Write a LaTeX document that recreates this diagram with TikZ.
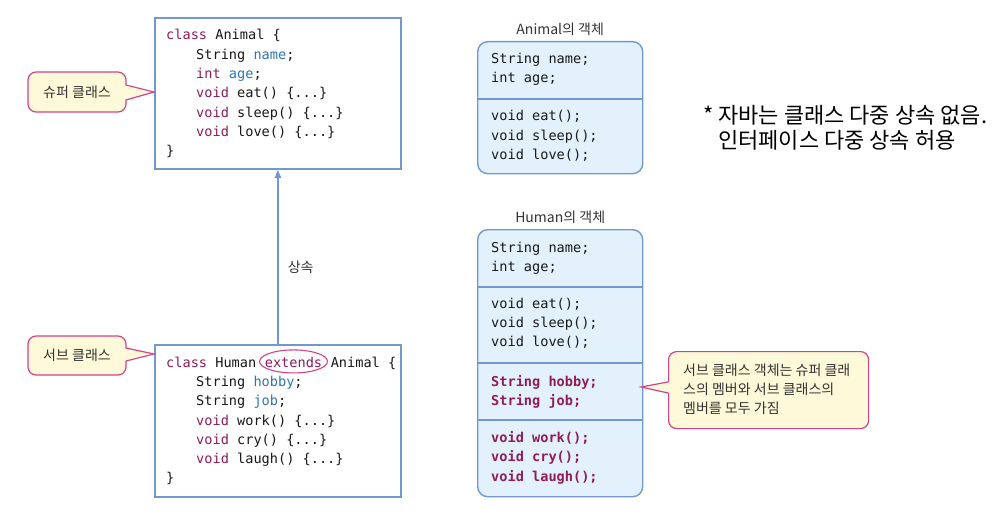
\documentclass[tikz,border=0pt]{standalone}
\usepackage{fontspec}
\setmainfont{Noto Sans CJK KR}
\setmonofont{DejaVu Sans Mono}
\usepackage{xcolor}
\usetikzlibrary{arrows.meta, positioning, calc}

\definecolor{boxblue}{HTML}{7199CF}
\definecolor{objfill}{HTML}{E3F1FC}
\definecolor{callfill}{HTML}{FEF9D9}
\definecolor{callline}{HTML}{D6428A}
\definecolor{kwpurple}{HTML}{8F1C5C}
\definecolor{fldblue}{HTML}{2F75B5}
\definecolor{lblgray}{HTML}{333333}

\newcommand{\kw}[1]{\textcolor{kwpurple}{#1}}
\newcommand{\fld}[1]{\textcolor{fldblue}{#1}}
\newcommand{\threedots}{...}

\begin{document}
\begin{tikzpicture}[
    x=1pt, y=-1pt,
    % Node styles
    classbox/.style={draw=boxblue, line width=1.8pt, fill=white, anchor=north west, inner sep=0},
    objbox/.style={draw=boxblue, line width=1.4pt, fill=objfill, rounded corners=10pt, anchor=north west, inner sep=0},
    code/.style={anchor=base west, inner sep=0, font=\ttfamily\fontsize{13.6}{19}\selectfont, text=black!90},
    boldcode/.style={code, font=\ttfamily\bfseries\fontsize{13.6}{19}\selectfont, text=kwpurple},
    lbltext/.style={inner sep=0, font=\fontsize{14}{19}\selectfont, text=lblgray},
    callbox/.style={lbltext, draw=callline, line width=1.2pt, fill=callfill, rounded corners=8pt},
    callout/.style={draw=callline, line width=1.2pt},
    divider/.style={draw=boxblue, line width=1.3pt},
    inherit/.style={draw=boxblue, line width=1.8pt, -{Triangle[length=8pt, width=6pt]}},
]
\useasboundingbox (0,0) rectangle (1008,524);

% ============================================================================
% LEFT: CLASS DEFINITIONS
% ============================================================================
\node[classbox, minimum width=246pt, minimum height=151pt] (animal) at (154,17) {};
\node[classbox, minimum width=246pt, minimum height=152pt] (human) at (154,344) {};

% Animal class code
\node[code] (a0) at (166,40) {\kw{class} Animal \{};
\foreach \ln [count=\i] in {{String \fld{name};}, {\kw{int} \fld{age};}, {\kw{void} eat() \{\threedots\}},
    {\kw{void} sleep() \{\threedots\}}, {\kw{void} love() \{\threedots\}}} {
    \node[code] (a\i) at (196, 40+19.3*\i) {\ln};
}
\node[code] (a6) at (166, 40+19.3*6) {\}};

% Human class code
\node[code] (h0) at (166,367.5) {\kw{class} Human\hphantom{x}};
\node[code] (ext) at (h0.base east) {\kw{extends}};
\node[code] (h0b) at (ext.base east) {\hphantom{x}Animal \{};
\draw[callline, line width=1.1pt] ([yshift=1pt]ext.center) ellipse (34pt and 11.5pt);
\foreach \ln [count=\i] in {{String \fld{hobby};}, {String \fld{job};}, {\kw{void} work() \{\threedots\}},
    {\kw{void} cry() \{\threedots\}}, {\kw{void} laugh() \{\threedots\}}} {
    \node[code] (h\i) at (196, 367.5+19.2*\i) {\ln};
}
\node[code] (h6) at (166, 367.5+19.2*6) {\}};

% Inheritance arrow
\draw[inherit] (human.north) -- (animal.south)
    node[pos=0.44, right=9pt, lbltext] (inhlbl) {상속};

% Callouts
\node[callbox, minimum width=98pt, minimum height=40pt] (superlbl) at (77,92) {슈퍼 클래스};
\fill[callfill] (124,85) -- (154,92) -- (124,100) -- cycle;
\draw[callout] (126,85) -- (154,92) -- (126,100);

\node[callbox, minimum width=98pt, minimum height=39pt] (sublbl) at (77,355.5) {서브 클래스};
\fill[callfill] (124,348) -- (154,354) -- (124,361) -- cycle;
\draw[callout] (126,348) -- (154,354) -- (126,361);

% ============================================================================
% RIGHT: OBJECTS
% ============================================================================
\node[objbox, minimum width=165pt, minimum height=132pt] (aobj) at (477,41) {};
\node[lbltext, above=5pt of aobj] (atitle) {Animal의 객체};
\draw[divider] (aobj.west |- 0,99) -- (aobj.east |- 0,99);
\foreach \y/\ln in {64/{String name;}, 83/{int age;}, 121/{void eat();}, 140/{void sleep();}, 159/{void love();}} {
    \node[code] (ao\y) at (491,\y) {\ln};
}

\node[objbox, minimum width=165pt, minimum height=267pt] (hobj) at (477,229) {};
\node[lbltext, above=5pt of hobj] (htitle) {Human의 객체};
\foreach \y in {287, 363, 420} {
    \draw[divider] (hobj.west |- 0,\y) -- (hobj.east |- 0,\y);
}
\foreach \y/\ln in {252/{String name;}, 271/{int age;}, 308/{void eat();}, 327/{void sleep();}, 346/{void love();}} {
    \node[code] (ho\y) at (491,\y) {\ln};
}
\foreach \y/\ln in {386/{String hobby;}, 405/{String job;}, 442/{void work();}, 461/{void cry();}, 481/{void laugh();}} {
    \node[boldcode] (ho\y) at (491,\y) {\ln};
}

% Callout for the Human object
\node[callbox, minimum width=200pt, minimum height=77pt, anchor=north west] (objnote) at (668,351) {};
\fill[callfill] (670,382) -- (641,387) -- (670,393) -- cycle;
\draw[callout] (668,382) -- (641,387) -- (668,393);
\node[lbltext, anchor=west, align=left] (objtext) at (683,389)
    {서브 클래스 객체는 슈퍼 클래\\스의 멤버와 서브 클래스의\\멤버를 모두 가짐};

% Note on multiple inheritance
\node[anchor=west, inner sep=0, align=left, font=\fontsize{22}{25}\selectfont] (note) at (703,128)
    {* 자바는 클래스 다중 상속 없음.\\\hspace*{15pt}인터페이스 다중 상속 허용};

\end{tikzpicture}
\end{document}
